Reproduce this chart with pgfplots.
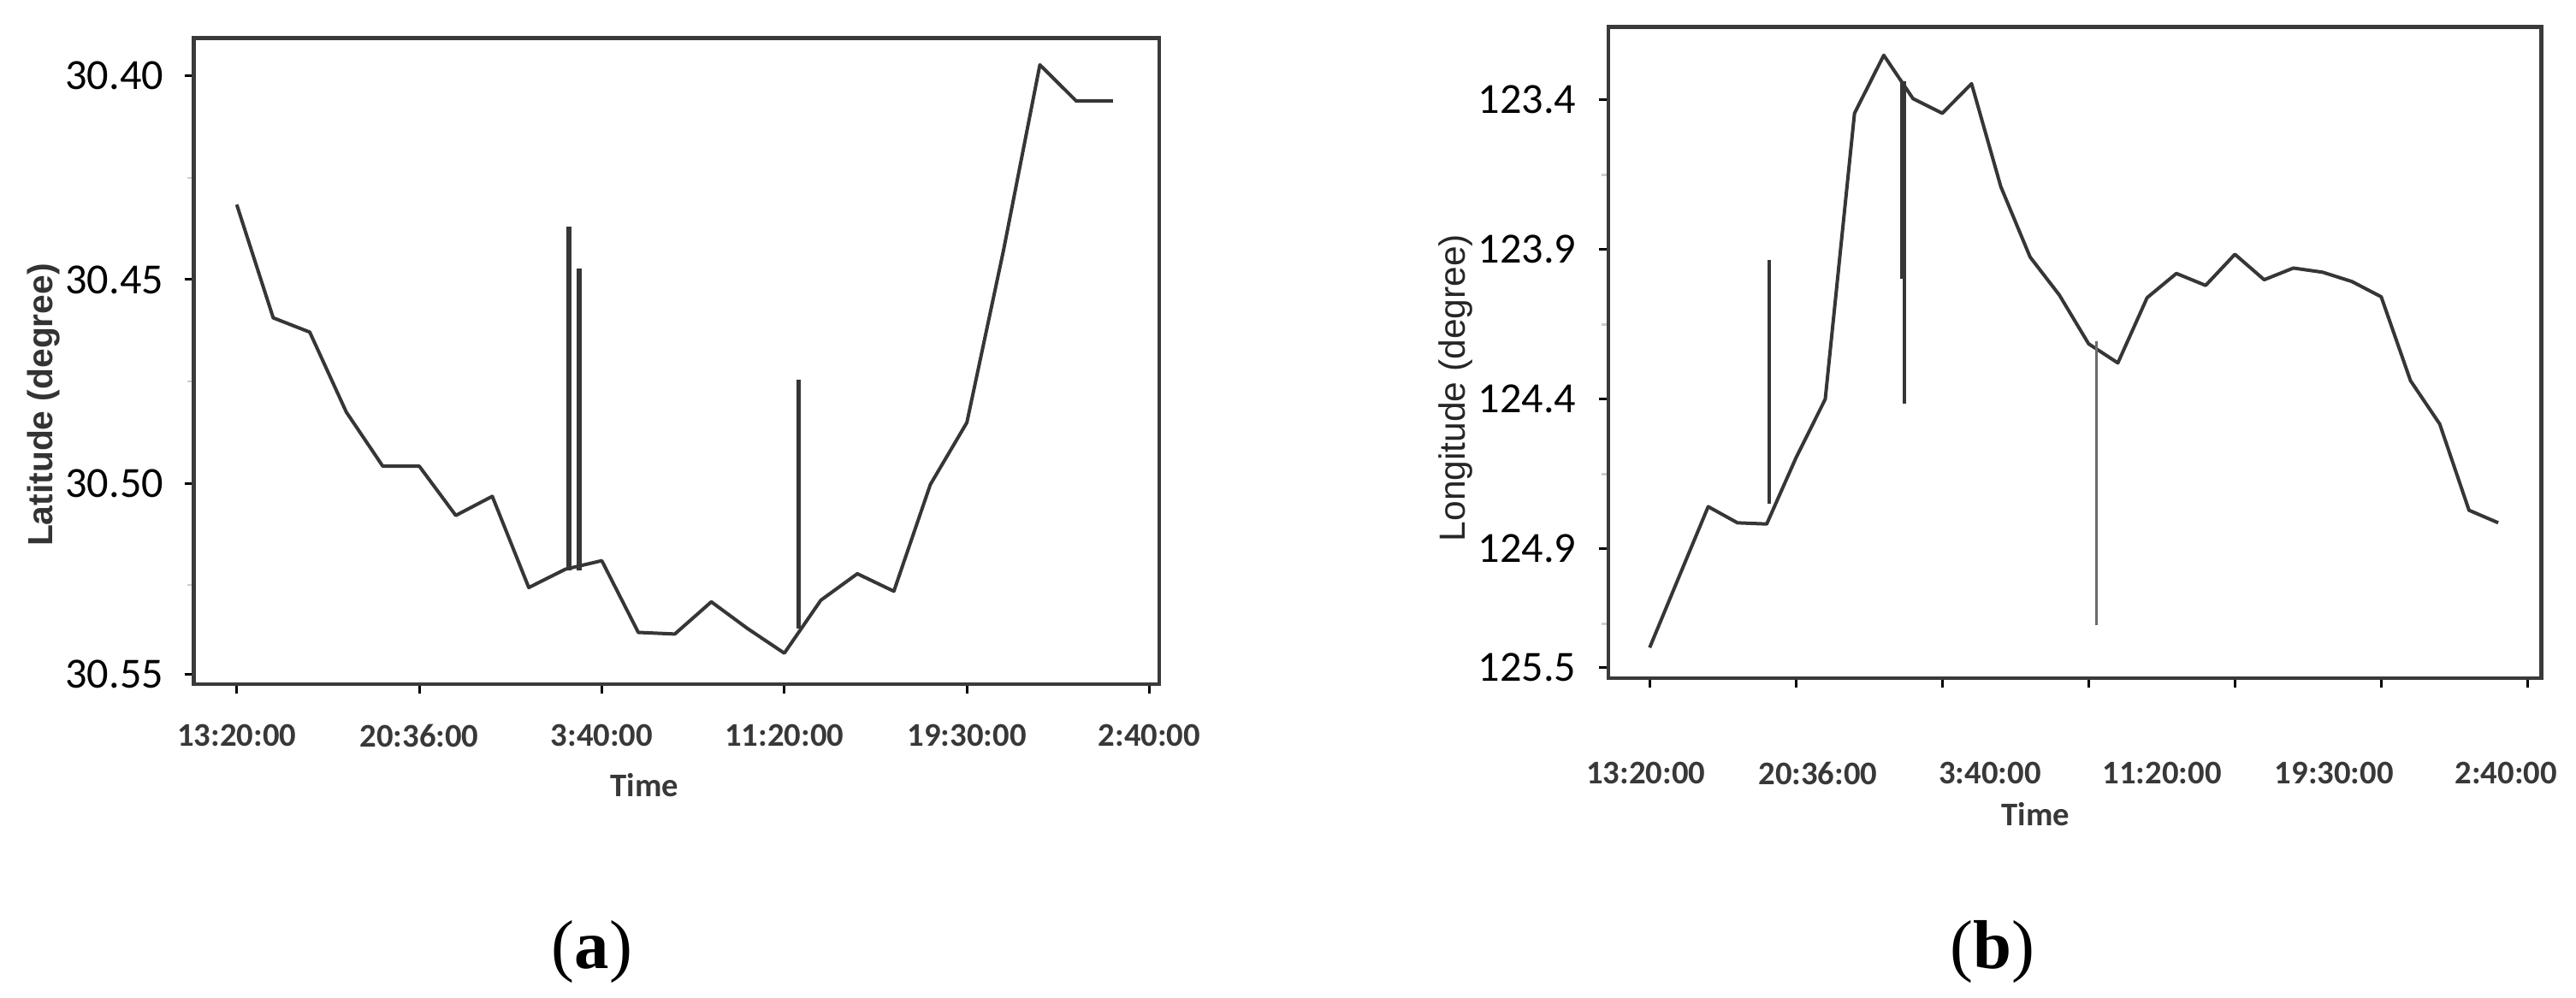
\documentclass[border=0pt]{standalone}
\usepackage{pgfplots}
\pgfplotsset{compat=1.18}
\usepackage{fontspec}
\setmainfont{Liberation Sans}
\newfontfamily\calibri{Carlito}
\newfontfamily\timesf{Liberation Serif}
\definecolor{lineg}{HTML}{363636}
\definecolor{axg}{HTML}{3A3A3A}
\begin{document}
\begin{tikzpicture}[x=1mm,y=1mm]
\path[use as bounding box] (0,0) rectangle (301.1,116.7);
% ---------------- (a) ----------------
\begin{axis}[
  at={(22.67mm,36.7mm)}, anchor=south west,
  scale only axis, width=112.83mm, height=75.56mm,
  xmin=-1.172, xmax=25.27,
  ymin=30.3907, ymax=30.5493, y dir=reverse,
  axis line style={draw=axg, line width=0.45mm},
  tick pos=left, tick align=outside,
  major tick length=1.1mm, minor tick length=0.8mm,
  every tick/.style={black, line width=0.3mm},
  minor tick style={gray!40, line width=0.25mm},
  xtick={0,5,10,15,20,25},
  xticklabels={13:20:00,20:36:00,3:40:00,11:20:00,19:30:00,2:40:00},
  ytick={30.40,30.45,30.50,30.5468},
  yticklabels={30.40,30.45,30.50,30.55},
  minor ytick={30.425,30.475,30.525},
  xticklabel style={font=\calibri\bfseries\fontsize{11}{11}\selectfont, text=black!78, inner sep=0pt, anchor=north, yshift=-3.5mm},
  yticklabel style={font=\calibri\fontsize{14.3}{14.3}\selectfont, text=black, inner sep=0pt, anchor=east, xshift=-2.4mm},
  xlabel={Time},
  xlabel style={font=\calibri\bfseries\fontsize{11}{11}\selectfont, text=black!78, at={(axis description cs:0.467,-0.156)}, anchor=center},
  ylabel={Latitude (degree)},
  ylabel style={font=\bfseries\fontsize{11.6}{11.6}\selectfont, text=black!80, at={(axis description cs:-0.146,0.432)}, anchor=base},
]
\addplot[lineg, line width=0.4mm, line join=round] table {
x y
0 30.4316
1 30.4594
2 30.4629
3 30.4825
4 30.4958
5 30.4958
6 30.5079
7 30.5032
8 30.5256
9 30.5211
10 30.5190
11 30.5366
12 30.5370
13 30.5291
14 30.5357
15 30.5417
16 30.5287
17 30.5222
18 30.5265
19 30.5003
20 30.4851
21 30.4430
22 30.3973
23 30.4062
24 30.4062
};
\addplot[lineg, line width=0.6mm] coordinates {(9.10,30.4370) (9.10,30.5214)};
\addplot[lineg, line width=0.6mm] coordinates {(9.37,30.4472) (9.37,30.5214)};
\addplot[lineg, line width=0.45mm] coordinates {(15.39,30.4745) (15.39,30.5357)};
\end{axis}
% ---------------- (b) ----------------
\begin{axis}[
  at={(188.0mm,37.4mm)}, anchor=south west,
  scale only axis, width=109.07mm, height=76.13mm,
  xmin=-1.41, xmax=30.48,
  ymin=123.157, ymax=125.332, y dir=reverse,
  axis line style={draw=axg, line width=0.45mm},
  tick pos=left, tick align=outside,
  major tick length=1.1mm, minor tick length=0.8mm,
  every tick/.style={black, line width=0.3mm},
  minor tick style={gray!40, line width=0.25mm},
  xtick={0,5,10,15,20,25,30},
  xticklabels={},
  extra x ticks={-0.13,5.75,11.63,17.51,23.39,29.27},
  extra x tick labels={13:20:00,20:36:00,3:40:00,11:20:00,19:30:00,2:40:00},
  extra x tick style={major tick length=0pt, xticklabel style={yshift=-9.7mm}},
  ytick={123.4,123.9,124.4,124.9,125.295},
  yticklabels={123.4,123.9,124.4,124.9,125.5},
  minor ytick={123.65,124.15,124.65,125.15},
  xticklabel style={font=\calibri\bfseries\fontsize{11}{11}\selectfont, text=black!78, inner sep=0pt, anchor=north},
  yticklabel style={font=\calibri\fontsize{14.3}{14.3}\selectfont, text=black, inner sep=0pt, anchor=east, xshift=-2.6mm},
  xlabel={Time},
  xlabel style={font=\calibri\bfseries\fontsize{11}{11}\selectfont, text=black!78, at={(axis description cs:0.458,-0.209)}, anchor=center},
  ylabel={Longitude (degree)},
  ylabel style={font=\fontsize{12.1}{12.1}\selectfont, text=black!85, at={(axis description cs:-0.154,0.446)}, anchor=base},
]
\addplot[lineg, line width=0.4mm, line join=round] table {
x y
0 125.230
1 124.994
2 124.759
3 124.813
4 124.817
5 124.596
6 124.400
7 123.445
8 123.251
9 123.396
10 123.445
11 123.346
12 123.690
13 123.925
14 124.052
15 124.215
16 124.279
17 124.061
18 123.980
19 124.020
20 123.916
21 124.001
22 123.962
23 123.976
24 124.007
25 124.058
26 124.338
27 124.483
28 124.771
29 124.813
};
\addplot[lineg, line width=0.4mm] coordinates {(4.08,123.934) (4.08,124.750)};
\addplot[lineg, line width=0.6mm] coordinates {(8.64,123.337) (8.64,123.998)};
\addplot[lineg, line width=0.4mm] coordinates {(8.72,123.337) (8.72,124.414)};
\addplot[gray!85!black, line width=0.3mm] coordinates {(15.26,124.206) (15.26,125.154)};
\end{axis}
\node[font=\timesf\fontsize{23}{23}\selectfont, anchor=base] at (69.2,3.4) {(\textbf{a})};
\node[font=\timesf\fontsize{23}{23}\selectfont, anchor=base] at (232.9,3.4) {(\textbf{b})};
\end{tikzpicture}
\end{document}
